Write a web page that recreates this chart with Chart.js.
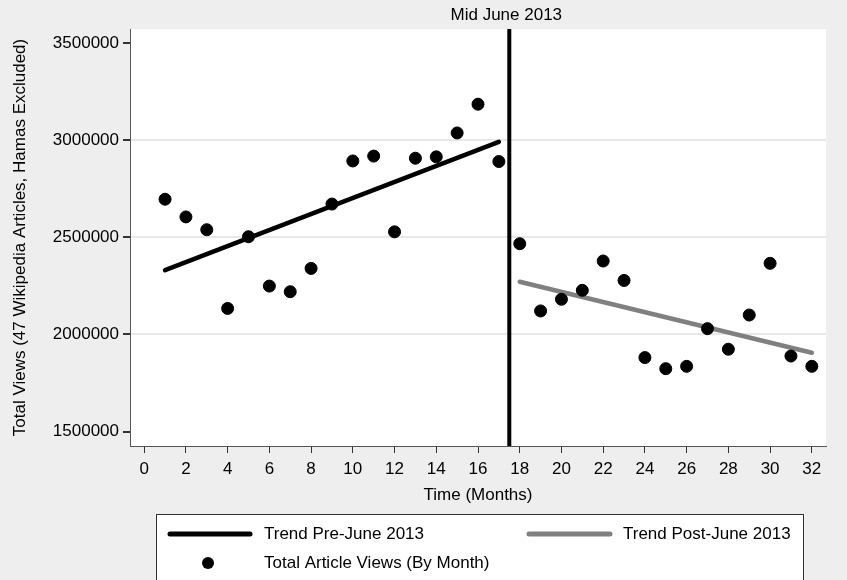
<!DOCTYPE html>
<html lang="en">
<head>
    <meta charset="UTF-8">
    <title>Total Article Views</title>
    <style>
        body {
            margin: 0;
            padding: 0;
            background-color: #eeeeee;
        }

        .chart-box {
            position: relative;
            width: 847px;
            height: 580px;
        }
    </style>
</head>
<body>
    <div class="chart-box">
        <canvas id="viewsChart" width="847" height="580"></canvas>
    </div>

    <script src="https://cdn.jsdelivr.net/npm/chart.js"></script>
    <script>
        // data
        const months = [1, 2, 3, 4, 5, 6, 7, 8, 9, 10, 11, 12, 13, 14, 15, 16,
            17, 18, 19, 20, 21, 22, 23, 24, 25, 26, 27, 28, 29, 30, 31, 32];
        const views = [2696000, 2605000, 2539000, 2134000, 2503000, 2249000, 2220000, 2340000,
            2671000, 2893000, 2918000, 2528000, 2907000, 2914000, 3037000, 3185000,
            2890000, 2467000, 2121000, 2181000, 2227000, 2378000, 2278000, 1881000,
            1824000, 1836000, 2030000, 1924000, 2100000, 2366000, 1889000, 1836000];
        const preTrendMonths = [1, 17];
        const preTrendViews = [2331000, 2991000];
        const postTrendMonths = [18, 32];
        const postTrendViews = [2271000, 1906000];
        const cutoffMonth = 17.5;
        const cutoffLabel = 'Mid June 2013';
        const xTickValues = [0, 2, 4, 6, 8, 10, 12, 14, 16, 18, 20, 22, 24, 26, 28, 30, 32];
        const yTickValues = [1500000, 2000000, 2500000, 3000000, 3500000];

        const yMin = 1426000;
        const yMax = 3572000;
        const fontFamily = '"Liberation Sans", Arial, Helvetica, sans-serif';
        const fontSize = 17;

        const toPoints = (xs, ys) => xs.map((x, i) => ({ x: x, y: ys[i] }));

        // white plot area
        const plotBackground = {
            id: 'plotBackground',
            beforeDraw(chart) {
                const { ctx, chartArea: a } = chart;
                ctx.save();
                ctx.fillStyle = '#ffffff';
                ctx.fillRect(a.left, a.top, a.right - a.left, a.bottom - a.top);
                ctx.restore();
            }
        };

        // label above the cutoff line and the boxed legend
        const extras = {
            id: 'extras',
            afterDraw(chart) {
                const ctx = chart.ctx;
                const xs = chart.scales.x;
                const ds = chart.data.datasets;
                ctx.save();
                ctx.font = fontSize + 'px ' + fontFamily;
                ctx.fillStyle = '#000';
                ctx.textAlign = 'center';
                ctx.textBaseline = 'middle';
                ctx.fillText(cutoffLabel, xs.getPixelForValue(cutoffMonth) - 3, 15);

                // legend box
                ctx.fillStyle = '#ffffff';
                ctx.fillRect(156, 514, 647, 80);
                ctx.strokeStyle = '#333';
                ctx.lineWidth = 1;
                ctx.strokeRect(156.5, 514.5, 647, 80);

                ctx.lineCap = 'round';
                ctx.lineWidth = 5;
                ctx.strokeStyle = ds[1].borderColor;
                ctx.beginPath();
                ctx.moveTo(170, 534);
                ctx.lineTo(250, 534);
                ctx.stroke();
                ctx.strokeStyle = ds[2].borderColor;
                ctx.beginPath();
                ctx.moveTo(529, 534);
                ctx.lineTo(610, 534);
                ctx.stroke();
                ctx.fillStyle = '#000';
                ctx.beginPath();
                ctx.arc(208, 563, 6, 0, Math.PI * 2);
                ctx.fill();

                ctx.textAlign = 'left';
                ctx.fillText(ds[1].label, 264, 534);
                ctx.fillText(ds[2].label, 623, 534);
                ctx.fillText(ds[0].label, 264, 563);
                ctx.restore();
            }
        };

        const ctx = document.getElementById('viewsChart').getContext('2d');
        new Chart(ctx, {
            type: 'scatter',
            data: {
                datasets: [{
                    label: 'Total Article Views (By Month)',
                    data: toPoints(months, views),
                    backgroundColor: '#000',
                    borderColor: '#000',
                    pointRadius: 6,
                    pointHoverRadius: 6,
                    order: 1
                }, {
                    label: 'Trend Pre-June 2013',
                    data: toPoints(preTrendMonths, preTrendViews),
                    showLine: true,
                    borderColor: '#000',
                    borderWidth: 4.5,
                    borderCapStyle: 'round',
                    pointRadius: 0,
                    order: 2
                }, {
                    label: 'Trend Post-June 2013',
                    data: toPoints(postTrendMonths, postTrendViews),
                    showLine: true,
                    borderColor: '#808080',
                    borderWidth: 4.5,
                    borderCapStyle: 'round',
                    pointRadius: 0,
                    order: 3
                }, {
                    label: cutoffLabel,
                    data: toPoints([cutoffMonth, cutoffMonth], [yMin, yMax]),
                    showLine: true,
                    borderColor: '#000',
                    borderWidth: 4,
                    borderCapStyle: 'round',
                    pointRadius: 0,
                    order: 0
                }]
            },
            options: {
                responsive: false,
                animation: false,
                layout: {
                    padding: { left: 0, top: 29, right: 21, bottom: 64 }
                },
                plugins: {
                    legend: { display: false },
                    tooltip: { enabled: false }
                },
                scales: {
                    x: {
                        type: 'linear',
                        min: -0.68,
                        max: 32.68,
                        afterBuildTicks: s => { s.ticks = xTickValues.map(v => ({ value: v })); },
                        afterFit: s => { s.height = 70; },
                        border: { color: '#555', width: 1 },
                        grid: { drawOnChartArea: false, tickLength: 7, tickColor: '#333' },
                        ticks: {
                            color: '#000',
                            padding: 6,
                            maxRotation: 0,
                            autoSkip: false,
                            font: { family: fontFamily, size: fontSize }
                        },
                        title: {
                            display: true,
                            text: 'Time (Months)',
                            color: '#000',
                            padding: { top: 0, bottom: 10 },
                            font: { family: fontFamily, size: fontSize }
                        }
                    },
                    y: {
                        min: yMin,
                        max: yMax,
                        afterBuildTicks: s => { s.ticks = yTickValues.map(v => ({ value: v })); },
                        afterFit: s => { s.width = 130; },
                        border: { color: '#555', width: 1 },
                        grid: {
                            color: c => (c.tick && (c.tick.value === 1500000 || c.tick.value === 3500000)) ? 'rgba(0,0,0,0)' : '#e8e8e8',
                            lineWidth: 2,
                            tickLength: 7,
                            tickColor: '#333'
                        },
                        ticks: {
                            color: '#000',
                            padding: 4,
                            autoSkip: false,
                            font: { family: fontFamily, size: fontSize },
                            callback: v => String(v)
                        },
                        title: {
                            display: true,
                            text: 'Total Views (47 Wikipedia Articles, Hamas Excluded)',
                            color: '#000',
                            padding: { top: 10, bottom: 0 },
                            font: { family: fontFamily, size: fontSize }
                        }
                    }
                }
            },
            plugins: [plotBackground, extras]
        });
    </script>
</body>
</html>
